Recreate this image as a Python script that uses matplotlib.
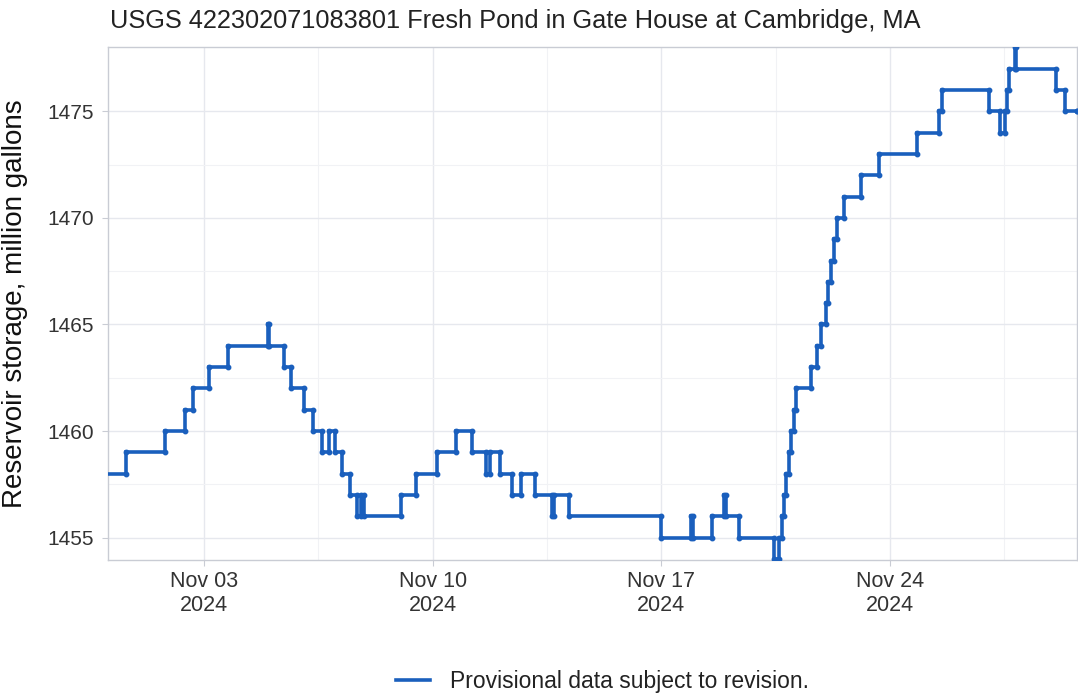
import matplotlib.pyplot as plt
import pandas as pd
import numpy as np

# Change points (time when a new level starts, and that level)
times = [
    '2024-10-31 01:30', '2024-10-31 14:45', '2024-11-01 19:25', '2024-11-02 10:05',
    '2024-11-02 15:55', '2024-11-03 03:40', '2024-11-03 17:35', '2024-11-04 23:00',
    '2024-11-04 23:45', '2024-11-05 10:40', '2024-11-05 15:50', '2024-11-06 01:20',
    '2024-11-06 08:00', '2024-11-06 14:35', '2024-11-06 19:40', '2024-11-07 00:05',
    '2024-11-07 05:15', '2024-11-07 11:05', '2024-11-07 16:15', '2024-11-07 19:10',
    '2024-11-07 21:25', '2024-11-09 00:30', '2024-11-09 11:30', '2024-11-10 03:00',
    '2024-11-10 16:55', '2024-11-11 04:35', '2024-11-11 14:55', '2024-11-11 17:50',
    '2024-11-12 01:10', '2024-11-12 10:00', '2024-11-12 16:35', '2024-11-13 02:55',
    '2024-11-13 15:20', '2024-11-13 16:50', '2024-11-14 04:30', '2024-11-17 00:00',
    '2024-11-17 22:00', '2024-11-17 23:00', '2024-11-18 13:30', '2024-11-18 22:15',
    '2024-11-18 23:45', '2024-11-19 09:20', '2024-11-20 11:00', '2024-11-20 14:35',
    '2024-11-20 16:50', '2024-11-20 18:20', '2024-11-20 19:45', '2024-11-20 21:55',
    '2024-11-20 23:25', '2024-11-21 01:35', '2024-11-21 03:05', '2024-11-21 14:05',
    '2024-11-21 18:30', '2024-11-21 21:25', '2024-11-22 01:05', '2024-11-22 02:35',
    '2024-11-22 04:45', '2024-11-22 07:00', '2024-11-22 09:10', '2024-11-22 14:20',
    '2024-11-23 02:50', '2024-11-23 16:00', '2024-11-24 19:50', '2024-11-25 12:00',
    '2024-11-25 14:10', '2024-11-27 00:40', '2024-11-27 08:50', '2024-11-27 12:25',
    '2024-11-27 13:55', '2024-11-27 15:20', '2024-11-27 19:45', '2024-11-27 20:30',
    '2024-11-29 01:50', '2024-11-29 08:25', '2024-11-29 17:20',
]
storage = [
    1458, 1459, 1460, 1461,
    1462, 1463, 1464, 1465,
    1464, 1463, 1462, 1461,
    1460, 1459, 1460, 1459,
    1458, 1457, 1456, 1457,
    1456, 1457, 1458, 1459,
    1460, 1459, 1458, 1459,
    1458, 1457, 1458, 1457,
    1456, 1457, 1456, 1455,
    1456, 1455, 1456, 1457,
    1456, 1455, 1454, 1455,
    1456, 1457, 1458, 1459,
    1460, 1461, 1462, 1463,
    1464, 1465, 1466, 1467,
    1468, 1469, 1470, 1471,
    1472, 1473, 1474, 1475,
    1476, 1475, 1474, 1475,
    1476, 1477, 1478, 1477,
    1476, 1475, 1475,
]
tick_dates = ['2024-11-03', '2024-11-10', '2024-11-17', '2024-11-24']
tick_labels = ['Nov 03\n2024', 'Nov 10\n2024', 'Nov 17\n2024', 'Nov 24\n2024']
y_ticks = [1455, 1460, 1465, 1470, 1475]

title = 'USGS 422302071083801 Fresh Pond in Gate House at Cambridge, MA'
ylabel = 'Reservoir storage, million gallons'
legend_label = 'Provisional data subject to revision.'

plt.rcParams['font.family'] = ['Liberation Sans', 'DejaVu Sans']

t = pd.to_datetime(times)
v = np.array(storage)
line_color = '#1a5fbd'

fig = plt.figure(figsize=(10.78, 6.96), dpi=100)
ax = fig.add_axes([0.1002, 0.1954, 0.8988, 0.7371])

# step line
ax.plot(t, v, drawstyle='steps-post', color=line_color, lw=2.6,
        solid_joinstyle='miter', label=legend_label, zorder=3)

# dots at both corners of every step
mx = np.concatenate([t[1:], t[1:]])
my = np.concatenate([v[:-1], v[1:]])
ax.plot(mx, my, 'o', color=line_color, ms=3.2, zorder=4)

# ticks and half-step minor grid (only inside the data range)
major_x = pd.to_datetime(tick_dates)
ax.set_xticks(major_x)
ax.set_xticklabels(tick_labels)
minor_x = [d - pd.Timedelta(hours=84) for d in major_x] + [major_x[-1] + pd.Timedelta(hours=84)]
minor_x = [d for d in minor_x if t[0] <= d <= t[-1]]
ax.set_xticks(minor_x, minor=True)
ax.set_yticks(y_ticks)
ax.set_yticks([y + 2.5 for y in y_ticks[:-1]], minor=True)

ax.set_xlim(t[0], t[-1])
ax.set_ylim(1453.95, 1478.02)

ax.grid(which='major', color='#e6e8ee', lw=1.0)
ax.grid(which='minor', color='#f1f2f5', lw=0.8)
ax.set_axisbelow(True)

for s in ax.spines.values():
    s.set_color('#c9ccd4')
    s.set_linewidth(1.0)

ax.tick_params(axis='both', which='major', length=4, color='#c9ccd4',
               labelsize=15.5, labelcolor='#333333', pad=4)
ax.tick_params(axis='both', which='minor', length=0)
ax.tick_params(axis='y', labelsize=15, pad=6)

ax.set_ylabel(ylabel, fontsize=20, color='#111111')
ax.yaxis.set_label_coords(-0.083, 0.5)

fig.text(0.102, 0.96, title, fontsize=18.3, color='#222222', ha='left', va='baseline')

fig.legend(loc='center', bbox_to_anchor=(0.559, 0.021), frameon=False,
           fontsize=16.5, handlelength=1.5, handletextpad=0.87,
           labelcolor='#222222')

fig.savefig('out.png', dpi=100)
